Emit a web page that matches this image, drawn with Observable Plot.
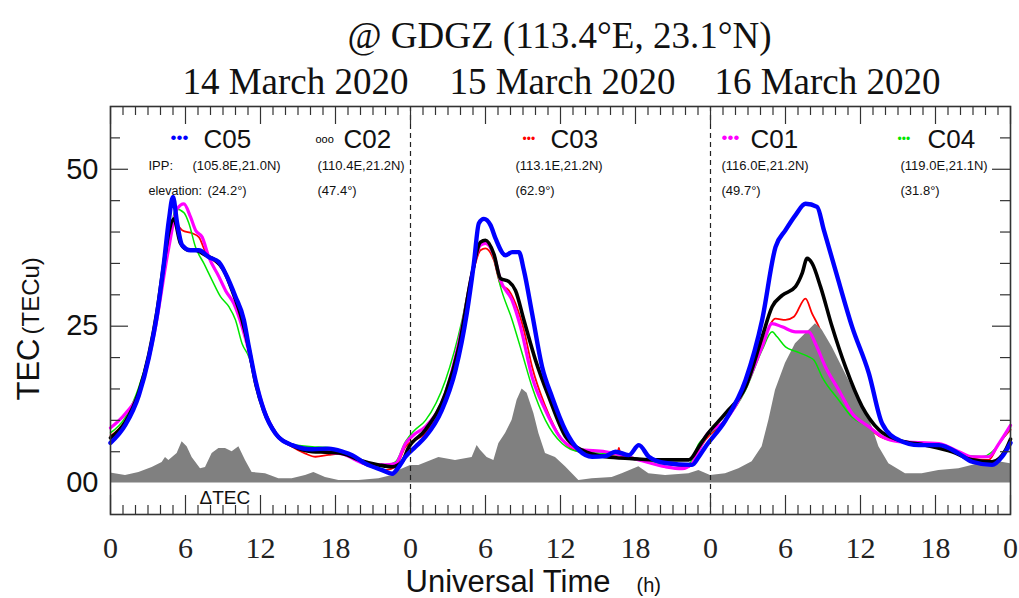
<!DOCTYPE html>
<html><head><meta charset="utf-8">
<script src="https://cdn.jsdelivr.net/npm/d3@7"></script>
<script src="https://cdn.jsdelivr.net/npm/@observablehq/plot@0.6"></script>
<style>body{margin:0;background:#fff}</style>
</head><body><div id="chart"></div>
<script>
// ---- data: [hour since 14 March 00UT, TEC (TECu)] ----
const c05 = [[0,6.4],[1.2,9.3],[2.27,14.0],[3.07,20.0],[3.73,27.0],[4.27,35.0],[4.67,41.9],[5.0,45.6],[5.33,41.4],[5.73,37.9],[6.4,37.1],[7.07,37.1],[7.87,36.0],[8.67,35.2],[9.2,33.4],[10.0,29.7],[10.67,26.0],[11.07,21.7],[11.6,16.4],[12.27,11.6],[13.2,7.9],[14.53,6.05],[16.13,5.4],[17.47,5.5],[18.6,5.0],[19.33,4.46],[20.4,3.1],[21.73,2.07],[22.53,1.5],[23.07,2.6],[23.6,4.2],[24.4,5.8],[25.2,7.4],[26.5,11.6],[27.6,18.0],[28.5,27.0],[29.07,35.0],[29.47,41.4],[29.87,42.1],[30.4,41.1],[30.8,39.0],[31.6,36.3],[32.13,36.8],[32.67,36.8],[33.07,33.9],[33.73,27.0],[34.53,18.5],[35.33,13.7],[36.4,8.4],[37.47,5.25],[38.53,4.2],[39.6,4.3],[40.4,5.0],[41.47,4.46],[42.27,6.05],[43.07,4.2],[44.4,3.2],[46.53,2.9],[47.07,4.2],[47.6,5.8],[49.2,10.0],[50.8,16.4],[52.13,26.0],[53.2,37.6],[54.0,40.3],[54.8,42.7],[55.6,44.5],[56.53,44.0],[57.07,40.3],[58.0,33.9],[59.33,24.9],[60.67,17.5],[61.73,9.5],[63.07,6.85],[64.67,6.05],[66.27,6.05],[67.87,4.7],[68.93,3.4],[70.53,2.9],[71.33,4.2],[72,6.4]];
const c02 = [[0,7.2],[1.2,9.8],[2.27,14.5],[3.07,20.5],[3.73,27.5],[4.27,35.0],[4.67,40.0],[5.07,42.1],[5.6,38.2],[6.27,37.1],[6.8,37.1],[7.6,36.3],[8.4,35.5],[9.07,33.9],[9.73,30.7],[10.53,26.0],[11.07,21.5],[11.6,16.0],[12.27,11.5],[13.2,7.9],[14.53,6.0],[16.13,5.0],[17.47,4.9],[18.6,4.7],[19.87,3.7],[21.47,2.9],[22.53,2.6],[23.33,3.4],[23.8,5.5],[25.2,8.5],[26.8,14.3],[27.87,21.7],[28.93,33.4],[29.6,38.4],[30.0,38.7],[30.67,36.5],[31.2,32.6],[31.87,32.1],[32.4,30.7],[33.07,26.0],[34.0,19.6],[35.07,13.7],[36.4,7.4],[37.73,5.25],[39.6,4.2],[41.73,3.9],[43.87,3.7],[46.27,3.7],[47.07,5.8],[47.6,7.4],[49.2,11.1],[50.8,15.3],[52.13,23.3],[52.93,28.1],[53.73,29.9],[54.8,31.3],[55.33,33.4],[55.73,35.8],[56.13,35.0],[56.8,31.3],[57.73,24.9],[58.8,18.5],[60.13,12.2],[61.47,8.5],[63.07,6.85],[65.2,6.05],[67.33,5.0],[68.93,3.7],[70.53,3.4],[71.6,5.25],[72,7.0]];
const c03 = [[0,7.5],[1.2,10.0],[2.27,14.6],[3.07,20.5],[3.73,27.5],[4.27,35.0],[4.67,39.5],[5.07,41.6],[5.73,40.3],[6.53,39.8],[7.07,39.2],[7.6,36.8],[8.4,35.2],[9.07,34.2],[9.73,30.7],[10.53,26.5],[11.07,21.5],[11.6,16.2],[12.27,11.6],[13.2,7.8],[14.53,5.8],[15.6,4.7],[16.4,4.2],[17.47,4.5],[18.6,4.7],[20.4,2.9],[22.0,2.07],[22.8,2.6],[23.6,5.8],[25.2,8.0],[26.8,13.7],[28.13,24.4],[28.93,32.9],[29.6,37.1],[30.0,37.4],[30.67,35.5],[31.2,31.7],[31.87,30.7],[32.4,28.6],[33.07,24.4],[33.73,18.5],[34.8,12.2],[36.13,6.9],[37.47,5.0],[39.6,4.46],[40.55,4.6],[40.67,5.6],[40.8,4.46],[42.8,3.7],[44.93,2.9],[46.27,2.6],[47.07,5.25],[47.6,6.9],[49.2,10.0],[50.8,15.3],[52.13,22.2],[53.2,26.2],[54.0,26.0],[54.67,26.5],[55.6,29.4],[56.13,27.0],[56.67,24.9],[57.07,22.8],[58.2,18.0],[59.5,13.0],[60.67,9.0],[61.8,7.2],[63.33,6.6],[66.27,6.3],[67.87,4.7],[68.93,3.9],[70.27,3.7],[71.07,6.3],[72,8.5]];
const c01 = [[0,8.8],[1.2,11.1],[2.27,14.3],[3.6,24.9],[4.67,37.6],[5.33,43.7],[5.87,44.5],[6.4,42.4],[6.8,40.3],[7.33,39.2],[7.87,36.0],[8.67,32.9],[9.2,30.7],[9.87,28.6],[10.53,24.9],[11.07,21.0],[11.6,16.4],[12.27,11.8],[13.2,8.0],[14.53,6.0],[16.13,5.3],[17.47,4.9],[18.6,4.6],[20.4,3.1],[21.9,2.9],[22.8,3.1],[23.6,6.3],[24.27,7.7],[25.2,9.0],[26.8,14.3],[28.13,24.9],[28.93,33.4],[29.6,37.9],[30.0,38.2],[30.67,36.3],[31.2,32.3],[32.13,29.1],[32.8,24.9],[33.73,16.9],[34.8,11.6],[36.13,6.9],[37.47,5.4],[39.6,5.0],[42.27,3.7],[44.4,2.6],[45.73,2.3],[46.53,3.1],[47.07,5.25],[47.6,7.4],[49.2,10.0],[50.8,15.3],[52.13,21.7],[52.93,25.4],[53.73,24.9],[54.8,24.1],[55.87,24.1],[56.4,22.2],[57.2,18.5],[58.27,14.8],[59.33,11.1],[60.67,9.0],[61.73,7.4],[63.07,6.6],[66.27,6.3],[67.87,5.0],[68.93,4.2],[70.27,4.2],[71.07,6.3],[72,9.2]];
const c04 = [[0,8.0],[1.2,10.5],[2.27,15.3],[3.6,25.4],[4.67,37.6],[5.2,43.7],[5.87,43.1],[6.27,41.4],[6.8,37.6],[7.47,35.0],[8.13,32.3],[8.8,29.7],[9.47,28.1],[10.0,26.0],[10.53,22.2],[11.07,20.1],[11.6,16.4],[12.27,11.8],[13.2,8.0],[14.53,6.2],[16.13,5.8],[17.2,5.7],[18.6,4.8],[19.87,3.9],[21.47,2.6],[22.8,3.4],[23.6,6.6],[24.27,8.3],[25.2,10.0],[26.8,16.4],[28.13,26.0],[28.93,33.9],[29.6,38.2],[30.0,38.2],[30.67,35.8],[31.2,31.3],[32.13,26.0],[32.93,20.7],[33.73,15.3],[34.8,10.0],[36.13,6.3],[37.47,5.0],[39.6,4.7],[42.27,3.9],[44.4,3.1],[46.27,3.1],[47.07,6.3],[47.6,7.4],[49.2,10.0],[50.8,14.8],[52.13,21.2],[52.93,24.1],[53.33,23.3],[54.0,21.7],[54.8,21.0],[55.87,20.1],[56.27,19.6],[56.93,16.9],[58.27,13.2],[59.33,10.5],[60.67,9.0],[61.73,7.4],[63.6,6.6],[66.27,6.05],[67.87,4.7],[69.7,4.2],[70.53,5.0],[71.33,6.9],[72,8.8]];
const dtec = [[0,1.6],[1.2,1.2],[2.27,1.7],[3.33,2.5],[4.13,3.3],[4.4,4.1],[4.67,3.6],[5.33,4.7],[5.73,6.6],[6.13,5.8],[6.53,4.1],[7.2,2.3],[7.6,2.5],[8.13,4.7],[8.67,5.5],[9.2,5.5],[9.73,5.0],[10.27,5.8],[10.8,3.6],[11.33,1.7],[12.4,1.5],[13.47,0.7],[14.53,0.7],[15.6,1.2],[16.27,1.7],[17.2,0.9],[18.27,0.4],[19.87,0.4],[21.47,0.7],[22.53,1.2],[23.07,2.0],[24.0,2.8],[24.67,2.8],[26.27,4.1],[27.6,3.6],[28.93,4.1],[29.33,6.0],[29.6,5.25],[30.13,4.1],[30.67,3.6],[31.07,6.3],[31.6,7.9],[32.13,10.0],[32.53,13.2],[32.93,15.0],[33.33,14.3],[33.87,11.1],[34.27,7.9],[34.8,4.7],[35.6,4.1],[36.4,2.6],[37.47,0.4],[38.53,0.7],[40.13,0.9],[40.93,1.5],[42.27,2.6],[43.07,1.5],[44.4,1.2],[46.27,1.5],[47.07,2.0],[48.0,1.2],[49.2,1.5],[50.27,2.3],[51.33,3.4],[52.13,5.8],[52.67,10.0],[53.2,14.8],[54.0,19.1],[54.8,22.2],[55.6,23.8],[56.4,25.4],[56.93,24.4],[57.73,21.7],[58.53,18.5],[59.33,15.3],[60.13,12.7],[60.93,9.0],[61.47,5.8],[62.27,3.1],[63.6,1.5],[64.93,1.5],[66.27,2.0],[67.87,2.3],[69.47,3.1],[71.07,3.4],[72,3.1]];

const satellites = ["C05","C02","C03","C01","C04"];
const ippLabels = ["(105.8E,21.0N)","(110.4E,21.2N)","(113.1E,21.2N)","(116.0E,21.2N)","(119.0E,21.1N)"];
const elevLabels = ["(24.2°)","(47.4°)","(62.9°)","(49.7°)","(31.8°)"];
const dayLabels = ["14 March 2020","15 March 2020","16 March 2020"];
const hourTicks = d3.range(0, 73, 6);
const yTickValues = [0, 25, 50];
const dayBoundaries = [24, 48];

// ---- layout / style ----
const W = 1019, H = 598, ML = 110, MR = 9, MT = 106, MB = 84;
const IW = W - ML - MR, IH = H - MT - MB;
const SANS = "Liberation Sans, Arial, sans-serif";
const SERIF = "Liberation Serif, Times New Roman, serif";
const colors = {C05:"#0000ff", C02:"#000000", C03:"#ff0000", C01:"#ff00ff", C04:"#00e600"};
const widths = {C05:4.4, C02:3.6, C03:1.8, C01:3.2, C04:1.5};
const legendX = [203, 343, 550, 750, 927];   // px positions of legend names
const sampleX = [170, 315, 522, 721, 897];
const ippX = [192, 317, 515, 721, 900];
const elevX = [207, 317, 515, 721, 900];
const dayX = [295, 562, 827];

function txt(s, px, py, o = {}) {
  return Plot.text([s], {text: d => d, frameAnchor: "top-left", dx: px - ML, dy: py - MT,
    textAnchor: "start", lineAnchor: "bottom", fontFamily: SANS, fill: "#111", ...o});
}

const series = {C05: c05, C02: c02, C03: c03, C01: c01, C04: c04};
const line = k => Plot.line(series[k], {x: d => d[0], y: d => d[1], stroke: colors[k],
  strokeWidth: widths[k], curve: "monotone-x", strokeLinejoin: "round"});

const minorH = d3.range(0, 73).filter(h => h % 6);
const minorY = d3.range(5, 60, 5).filter(v => v % 25);

const marks = [
  line("C03"),
  Plot.areaY(dtec, {x: d => d[0], y: d => d[1], fill: "#808080", curve: "linear"}),
  line("C04"), line("C01"), line("C02"), line("C05"),
  Plot.ruleX(dayBoundaries, {x: d => d, stroke: "#222", strokeDasharray: "5,4", strokeWidth: 1.2}),
  // ticks (inward)
  Plot.ruleX(minorH, {x: d => d, insetTop: IH - 9, stroke: "#333", strokeWidth: 1.2}),
  Plot.ruleX(hourTicks, {x: d => d, insetTop: IH - 19, stroke: "#333", strokeWidth: 1.2}),
  Plot.ruleX(minorH, {x: d => d, insetBottom: IH - 9, stroke: "#333", strokeWidth: 1.2}),
  Plot.ruleX(hourTicks, {x: d => d, insetBottom: IH - 18, stroke: "#333", strokeWidth: 1.2}),
  Plot.ruleY(minorY, {y: d => d, insetRight: IW - 10, stroke: "#333", strokeWidth: 1.2}),
  Plot.ruleY(yTickValues.slice(1), {y: d => d, insetRight: IW - 18, stroke: "#333", strokeWidth: 1.2}),
  Plot.ruleY(minorY, {y: d => d, insetLeft: IW - 10, stroke: "#333", strokeWidth: 1.2}),
  Plot.ruleY(yTickValues.slice(1), {y: d => d, insetLeft: IW - 18, stroke: "#333", strokeWidth: 1.2}),
  Plot.frame({stroke: "#333", strokeWidth: 1.6}),
  Plot.axisX(hourTicks, {tickSize: 0, tickPadding: 22, tickFormat: d => String(d % 24),
    fontSize: 30, fontFamily: SERIF, fill: "#222", label: null}),
  Plot.axisY(yTickValues, {tickSize: 0, tickPadding: 12, tickFormat: d => d === 0 ? "00" : String(d),
    fontSize: 29, fontFamily: SANS, fill: "#111", label: null}),
  // titles
  txt("@ GDGZ (113.4°E, 23.1°N)", 559, 47, {textAnchor: "middle", fontFamily: SERIF, fontSize: 37}),
  ...dayLabels.map((s, i) => txt(s, dayX[i], 93, {textAnchor: "middle", fontFamily: SERIF, fontSize: 37})),
  txt("Universal Time", 405, 591, {fontSize: 31}),
  txt("(h)", 636, 591, {fontSize: 20}),
  txt("TEC", 38, 400, {rotate: -90, fontSize: 31}),
  txt("(TECu)", 38, 334, {rotate: -90, fontSize: 24}),
  txt("ΔTEC", 199, 503, {fontSize: 19}),
  // legend
  ...satellites.map((s, i) => txt(s, legendX[i], 147, {fontSize: 26})),
  ...satellites.map((s, i) => txt(s === "C02" ? "ooo" : "•••", sampleX[i], 142,
      {fontSize: s === "C02" ? 11 : (s === "C05" || s === "C01" ? 17 : 12), fill: colors[s]})),
  txt("IPP:", 148, 169, {fontSize: 13}),
  txt("elevation:", 148, 194, {fontSize: 12.5}),
  ...ippLabels.map((s, i) => txt(s, ippX[i], 169, {fontSize: 13})),
  ...elevLabels.map((s, i) => txt(s, elevX[i], 194, {fontSize: 13}))
];

const chart = Plot.plot({
  width: W, height: H, marginLeft: ML, marginRight: MR, marginTop: MT, marginBottom: MB,
  x: {domain: [0, 72]}, y: {domain: [-5, 60]},
  style: {background: "#fff", fontFamily: SANS},
  marks
});
document.getElementById("chart").append(chart);
</script></body></html>
